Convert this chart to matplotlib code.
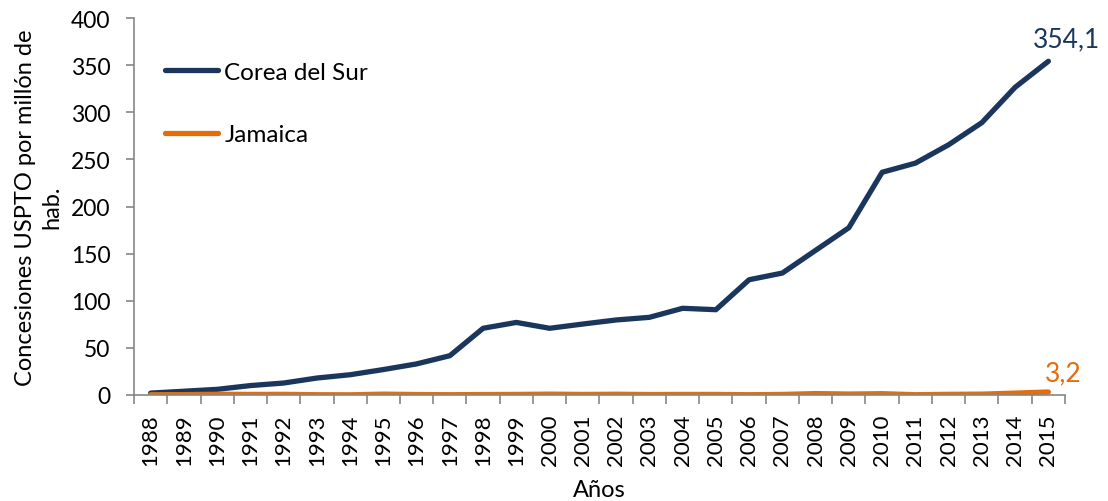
import matplotlib
matplotlib.use("Agg")
import matplotlib.pyplot as plt
from matplotlib.ticker import FixedLocator, NullFormatter

plt.rcParams['font.family'] = ['Lato', 'DejaVu Sans']

years = [str(y) for y in range(1988, 2016)]
corea = [2.0, 4.0, 6.0, 10.0, 12.7, 18.0, 21.5, 27.0, 33.0, 41.7,
         70.8, 77.0, 70.8, 75.3, 79.6, 82.4, 92.0, 90.5, 122.3, 129.4,
         153.5, 177.5, 236.3, 246.0, 265.5, 289.0, 326.5, 354.1]
jamaica = [0.3, 0.4, 0.8, 0.6, 0.7, 0.3, 0.2, 0.9, 0.5, 0.3,
           0.5, 0.6, 0.9, 0.6, 0.8, 0.5, 0.6, 0.6, 0.3, 0.6,
           1.5, 1.0, 1.4, 0.3, 0.7, 0.9, 2.0, 3.2]

navy = '#1B365D'
orange = '#E46C0A'
grey = '#868686'

fig = plt.figure(figsize=(11.08, 5.02), dpi=100)
ax = fig.add_axes([134/1108, 1 - 396/502, (1065 - 134)/1108, (396 - 19)/502])

x = list(range(len(years)))
ax.plot(x, corea, color=navy, lw=3.8, solid_capstyle='round', label='Corea del Sur')
ax.plot(x, jamaica, color=orange, lw=3.8, solid_capstyle='round', label='Jamaica')

ax.set_xlim(-0.5, len(years) - 0.5)
ax.set_ylim(0, 400)
ax.set_yticks(range(0, 401, 50))
ax.set_xticks(x)
ax.set_xticklabels(years, rotation=90, fontsize=16)
ax.xaxis.set_minor_locator(FixedLocator([i - 0.5 for i in range(len(years) + 1)]))
ax.xaxis.set_minor_formatter(NullFormatter())
ax.tick_params(axis='x', which='major', length=0, pad=13)
ax.tick_params(axis='x', which='minor', length=6.5, color=grey, width=1.2)
ax.tick_params(axis='y', length=6, color=grey, width=1.2, labelsize=16.5, pad=11)

for side in ('top', 'right'):
    ax.spines[side].set_visible(False)
for side in ('left', 'bottom'):
    ax.spines[side].set_color(grey)
    ax.spines[side].set_linewidth(1.2)

ax.set_ylabel('Concesiones USPTO por millón de\nhab.', fontsize=17, labelpad=6,
              linespacing=1.3)
ax.set_xlabel('Años', fontsize=17, labelpad=10)

ax.annotate(f'{corea[-1]:.1f}'.replace('.', ','), (x[-1], corea[-1]),
            xytext=(13, 7), textcoords='offset points', ha='center', va='bottom',
            color=navy, fontsize=19)
ax.annotate(f'{jamaica[-1]:.1f}'.replace('.', ','), (x[-1], jamaica[-1]),
            xytext=(11, 5), textcoords='offset points', ha='center', va='bottom',
            color=orange, fontsize=19)

leg = ax.legend(loc='upper left', bbox_to_anchor=(0.033, 0.884), frameon=False,
                fontsize=17.5, handlelength=2.2, handletextpad=0.25,
                labelspacing=1.7, borderpad=0, borderaxespad=0)

fig.savefig('out.png', dpi=100)
